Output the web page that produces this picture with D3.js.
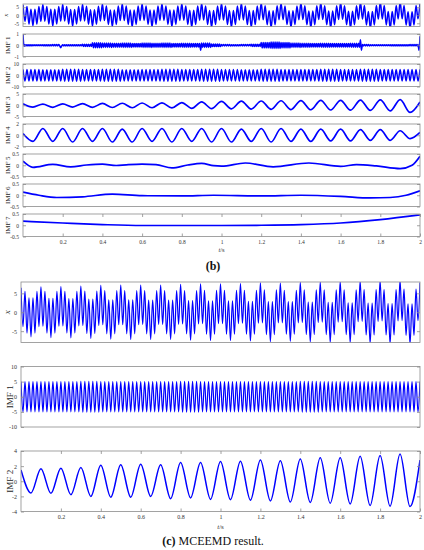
<!DOCTYPE html>
<html>
<head>
<meta charset="utf-8">
<script src="https://cdn.jsdelivr.net/npm/d3@7"></script>
<style>
  body { margin: 0; background: #fff; }
  svg { display: block; }
</style>
</head>
<body>
<div id="container"></div>
<script>
const serif = "'Liberation Serif', 'Times New Roman', serif";
const timeTicks = [0.2, 0.4, 0.6, 0.8, 1, 1.2, 1.4, 1.6, 1.8, 2];

// signal x: extrema every 0.01 s (one row = 0.1 s)
const xStep = 0.01;
const xExtrema = [
  6.5, -3.8, 5.5, -5.5, 3.8, -6.5, 3.8, -5.5, 5.5, -3.8,
  6.7, -3.7, 5.5, -5.5, 3.7, -6.7, 3.7, -5.5, 5.5, -3.7,
  6.8, -3.6, 5.5, -5.5, 3.6, -6.8, 3.6, -5.5, 5.5, -3.6,
  6.9, -3.5, 5.6, -5.6, 3.5, -6.9, 3.5, -5.6, 5.6, -3.5,
  7.1, -3.3, 5.7, -5.7, 3.3, -7.1, 3.3, -5.7, 5.7, -3.3,
  7.2, -3.3, 5.7, -5.7, 3.3, -7.2, 3.3, -5.7, 5.7, -3.3,
  7.2, -3.2, 5.7, -5.7, 3.2, -7.2, 3.2, -5.7, 5.7, -3.2,
  7.2, -3.2, 5.7, -5.7, 3.2, -7.2, 3.2, -5.7, 5.7, -3.2,
  7.4, -3.1, 5.7, -5.7, 3.1, -7.4, 3.1, -5.7, 5.7, -3.1,
  7.5, -3.0, 5.8, -5.8, 3.0, -7.5, 3.0, -5.8, 5.8, -3.0,
  7.5, -3.0, 5.8, -5.8, 3.0, -7.5, 3.0, -5.8, 5.8, -3.0,
  7.6, -2.9, 5.8, -5.8, 2.9, -7.6, 2.9, -5.8, 5.8, -2.9,
  7.8, -2.8, 5.9, -5.9, 2.8, -7.8, 2.8, -5.9, 5.9, -2.8,
  7.7, -2.8, 5.8, -5.8, 2.8, -7.7, 2.8, -5.8, 5.8, -2.8,
  7.9, -2.7, 5.9, -5.9, 2.7, -7.9, 2.7, -5.9, 5.9, -2.7,
  8.0, -2.6, 5.9, -5.9, 2.6, -8.0, 2.6, -5.9, 5.9, -2.6,
  8.1, -2.5, 5.9, -5.9, 2.5, -8.1, 2.5, -5.9, 5.9, -2.5,
  8.3, -2.4, 6.0, -6.0, 2.4, -8.3, 2.4, -6.0, 6.0, -2.4,
  8.4, -2.3, 6.0, -6.0, 2.3, -8.4, 2.3, -6.0, 6.0, -2.3,
  8.5, -2.2, 6.1, -6.1, 2.2, -8.5, 2.2, -6.1, 6.1, -2.2,
  7.8
];

// (b) IMF 1: band half-width per 0.05 s, sampled every 0.005 s, plus spikes
const imf1bStep = 0.005;
const imf1bEnvelope = [
  0.05, 0.04, 0.05, 0.06, 0.05, 0.05, 0.1, 0.22, 0.2, 0.18, 0.2, 0.16, 0.2, 0.18,
  0.2, 0.15, 0.18, 0.15, 0.2, 0.12, 0.06, 0.05, 0.06, 0.1, 0.25, 0.28, 0.24,
  0.2, 0.18, 0.15, 0.18, 0.15, 0.15, 0.18, 0.06, 0.04, 0.04, 0.05, 0.05, 0.06, 0.1
];
const imf1bSpikes = [
  [0, 1.0], [0.005, -0.1], [0.19, -0.22], [0.895, -0.45],
  [1.7, 0.5], [1.705, -0.45], [1.995, -0.45], [2.0, 0.8]
];

// (b) IMF 2: half-width per 0.1 s, extrema every 0.01 s
const imf2bStep = 0.01;
const imf2bAmplitude = [5.2, 5.0, 5.3, 5.1, 5.4, 5.0, 5.2, 5.3, 5.1, 5.4,
  5.2, 5.0, 5.3, 5.2, 5.1, 5.4, 5.2, 5.3, 5.1, 5.2];

// (b) IMF 3 and IMF 4: extrema every 0.05 s
const imf3bStep = 0.05;
const imf3bExtrema = [0.7, -0.8, 0.5, -0.9, 0.6, -0.8, 0.7, -0.9, 0.8, -1.0, 0.9,
  -1.1, 1.0, -1.1, 1.1, -1.2, 1.2, -1.4, 1.5, -1.5, 1.7, -1.6, 1.8, -1.7, 1.9,
  -1.8, 2.0, -1.9, 2.1, -2.0, 2.2, -2.1, 2.2, -2.2, 2.3, -2.3, 2.4, -2.5, 2.5, -3.2, 1.5];
const imf4bStep = 0.05;
const imf4bExtrema = [0.3, -1.1, 1.2, -1.1, 1.2, -1.2, 1.2, -1.1, 1.2, -1.2, 1.1,
  -1.2, 1.2, -1.1, 1.2, -1.2, 1.2, -1.1, 1.2, -1.2, 1.2, -1.2, 1.1, -1.1, 1.2,
  -1.2, 1.2, -1.1, 1.1, -1.1, 1.1, -1.0, 1.1, -1.0, 1.0, -0.9, 1.0, -0.9, 0.8, -0.6, 0.5];

// (b) slow modes: [t, value]
const imf5b = [[0, 0.18], [0.05, -0.09], [0.15, 0.04], [0.24, -0.07], [0.32, 0.01],
  [0.4, 0.05], [0.47, -0.01], [0.52, 0.02], [0.6, 0.05], [0.67, 0.03], [0.75, -0.12],
  [0.83, 0.01], [0.9, 0.08], [0.96, -0.02], [1.0, -0.04], [1.12, 0.1], [1.26, -0.07],
  [1.44, 0.1], [1.6, -0.05], [1.68, 0.03], [1.78, -0.03], [1.9, -0.15], [1.96, 0.0], [2.0, 0.4]];
const imf6b = [[0, 0.14], [0.08, 0.0], [0.17, -0.1], [0.3, -0.07], [0.45, 0.05],
  [0.6, -0.02], [0.8, -0.03], [0.96, 0.0], [1.2, -0.03], [1.4, 0.0], [1.6, -0.05],
  [1.75, -0.12], [1.85, -0.1], [1.93, 0.0], [2.0, 0.2]];
const imf7b = [[0, 0.18], [0.2, 0.1], [0.4, 0.03], [0.6, -0.01], [0.8, -0.01],
  [1.0, -0.01], [1.2, 0.0], [1.4, 0.03], [1.6, 0.1], [1.8, 0.25], [2.0, 0.46]];

// (c) MCEEMD
const imf1cStep = 0.01;
const imf1cAmplitude = [5.0, 5.0, 5.0, 5.1, 5.0, 5.0, 5.0, 5.0, 5.1, 5.0,
  5.0, 5.0, 5.0, 5.0, 5.1, 5.0, 5.0, 5.0, 5.0, 5.0];
const imf2cStep = 0.05;
const imf2cExtrema = [1.5, -1.55, 1.64, -1.6, 1.73, -1.78, 1.82, -2.0, 2.13, -2.1,
  2.17, -2.1, 2.26, -2.0, 2.17, -2.3, 2.47, -2.2, 2.47, -2.4, 2.6, -2.43, 2.65, -2.5,
  2.8, -2.6, 2.7, -2.75, 2.95, -2.8, 3.1, -2.9, 3.1, -3.0, 3.3, -3.2, 3.4, -3.3, 3.6, -3.35, 2.8];

const svg = d3
  .select('#container')
  .append('svg')
  .attr('width', 424)
  .attr('height', 550);

let clipCount = 0;

const figB = { left: 23, right: 420, top: 4, gap: 30, height: 22.5,
  tickFont: 5.5, labelFont: 7, xPad: 4, lineWidth: 1.7 };
const figC = { left: 21, right: 420, top: 282, gap: 84.5, height: 60.5,
  tickFont: 6, labelFont: 9, xPad: 3, lineWidth: 1.5 };

drawFigure(figB, [
  { label: 'x', italic: true, labelX: 8, domain: [-7, 7], ticks: [-5, 0, 5], data: fromExtrema(xExtrema, xStep), width: 1.5 },
  { label: 'IMF 1', labelX: 9.5, domain: [-1, 1], ticks: [-1, 0, 1], data: imf1bSeries(), width: 1.5 },
  { label: 'IMF 2', labelX: 9.5, domain: [-10, 10], ticks: [-10, 0, 10], data: alternate(imf2bAmplitude, imf2bStep, 10), width: 1.5 },
  { label: 'IMF 3', labelX: 9.5, domain: [-5, 5], ticks: [-5, 0, 5], data: fromExtrema(imf3bExtrema, imf3bStep) },
  { label: 'IMF 4', labelX: 9.5, domain: [-2, 2], ticks: [-2, 0, 2], data: fromExtrema(imf4bExtrema, imf4bStep) },
  { label: 'IMF 5', labelX: 9.5, domain: [-0.5, 0.5], ticks: [-0.5, 0, 0.5], data: imf5b },
  { label: 'IMF 6', labelX: 9.5, domain: [-0.5, 0.5], ticks: [-0.5, 0, 0.5], data: imf6b },
  { label: 'IMF 7', labelX: 9.5, domain: [-0.5, 0.5], ticks: [-0.5, 0, 0.5], data: imf7b },
]);

drawFigure(figC, [
  { label: 'x', italic: true, labelX: 9.5, domain: [-8, 8], ticks: [-5, 0, 5], data: fromExtrema(xExtrema, xStep), width: 1.2 },
  { label: 'IMF 1', labelX: 12.5, domain: [-10, 10], ticks: [-10, -5, 0, 5, 10], data: alternate(imf1cAmplitude, imf1cStep, 10), width: 1.2 },
  { label: 'IMF 2', labelX: 12.5, domain: [-4, 4], ticks: [-4, -2, 0, 2, 4], data: fromExtrema(imf2cExtrema, imf2cStep) },
]);

caption(213, 270, 'b', '');
caption(213, 545, 'c', ' MCEEMD result.');

function drawFigure(fig, panels) {
  const x = d3.scaleLinear().domain([0, 2]).range([fig.left, fig.right]);

  panels.forEach((p, i) => {
    const top = fig.top + i * fig.gap;
    const y = d3.scaleLinear().domain(p.domain).range([top + fig.height, top]);
    const g = svg.append('g');
    const clipId = 'clip-' + clipCount++;

    g.append('clipPath')
      .attr('id', clipId)
      .append('rect')
      .attr('x', fig.left)
      .attr('y', top)
      .attr('width', fig.right - fig.left)
      .attr('height', fig.height);

    g.append('path')
      .datum(p.data)
      .attr('clip-path', 'url(#' + clipId + ')')
      .attr('fill', 'none')
      .attr('stroke', '#0000ff')
      .attr('stroke-width', p.width || fig.lineWidth)
      .attr('stroke-linejoin', 'round')
      .attr(
        'd',
        d3
          .line()
          .x((d) => x(d[0]))
          .y((d) => y(d[1]))
          .curve(d3.curveMonotoneX)
      );

    styleAxis(
      g.append('g')
        .attr('transform', 'translate(' + fig.left + ',0)')
        .call(d3.axisLeft(y).tickValues(p.ticks).tickSize(-3).tickPadding(4).tickFormat((d) => String(d))),
      fig
    );
    styleAxis(
      g.append('g')
        .attr('transform', 'translate(' + fig.right + ',0)')
        .call(d3.axisRight(y).tickValues(p.ticks).tickSize(-3).tickFormat('')),
      fig
    );

    if (i === panels.length - 1) {
      styleAxis(
        g.append('g')
          .attr('transform', 'translate(0,' + (top + fig.height) + ')')
          .call(d3.axisBottom(x).tickValues(timeTicks).tickSize(-3).tickPadding(fig.xPad).tickFormat((d) => String(d))),
        fig
      );
      styleAxis(
        g.append('g')
          .attr('transform', 'translate(0,' + top + ')')
          .call(d3.axisTop(x).tickValues(timeTicks).tickSize(-3).tickFormat('')),
        fig
      );
      const tLabel = g.append('text')
        .attr('x', (fig.left + fig.right) / 2)
        .attr('y', top + fig.height + fig.tickFont * 2.9)
        .attr('text-anchor', 'middle')
        .attr('font-family', serif)
        .attr('font-size', fig.tickFont + 1)
        .attr('fill', '#333');
      tLabel.append('tspan').attr('font-style', 'italic').text('t');
      tLabel.append('tspan').text('/s');
    }

    g.append('rect')
      .attr('x', fig.left)
      .attr('y', top)
      .attr('width', fig.right - fig.left)
      .attr('height', fig.height)
      .attr('fill', 'none')
      .attr('stroke', '#8c8c8c')
      .attr('stroke-width', 0.8);

    g.append('text')
      .attr('transform', 'translate(' + p.labelX + ',' + (top + fig.height / 2) + ') rotate(-90)')
      .attr('text-anchor', 'middle')
      .attr('font-family', serif)
      .attr('font-size', fig.labelFont)
      .attr('font-style', p.italic ? 'italic' : null)
      .attr('fill', '#262626')
      .text(p.label);
  });
}

function styleAxis(axis, fig) {
  axis.attr('font-family', serif).attr('font-size', fig.tickFont);
  axis.select('.domain').remove();
  axis.selectAll('line').attr('stroke', '#8c8c8c').attr('stroke-width', 0.8);
  axis.selectAll('text').attr('fill', '#333');
}

function fromExtrema(values, step) {
  return values.map((v, i) => [i * step, v]);
}

function alternate(amps, step, perGroup) {
  const pts = [];
  for (let k = 0; k * step <= 2 + 1e-9; k++) {
    const a = amps[Math.min(Math.floor(k / perGroup), amps.length - 1)];
    pts.push([k * step, k % 2 === 0 ? a : -a]);
  }
  return pts;
}

function imf1bSeries() {
  const pts = alternate(imf1bEnvelope, imf1bStep, 10);
  imf1bSpikes.forEach(([t, v]) => {
    pts[Math.round(t / imf1bStep)][1] = v;
  });
  return pts;
}

function caption(cx, cy, letter, rest) {
  const t = svg.append('text')
    .attr('x', cx)
    .attr('y', cy)
    .attr('text-anchor', 'middle')
    .attr('font-family', serif)
    .attr('font-size', 12)
    .attr('fill', '#111');
  t.append('tspan').attr('font-weight', 'bold').text('(' + letter + ')');
  if (rest) t.append('tspan').text(rest);
}
</script>
</body>
</html>
